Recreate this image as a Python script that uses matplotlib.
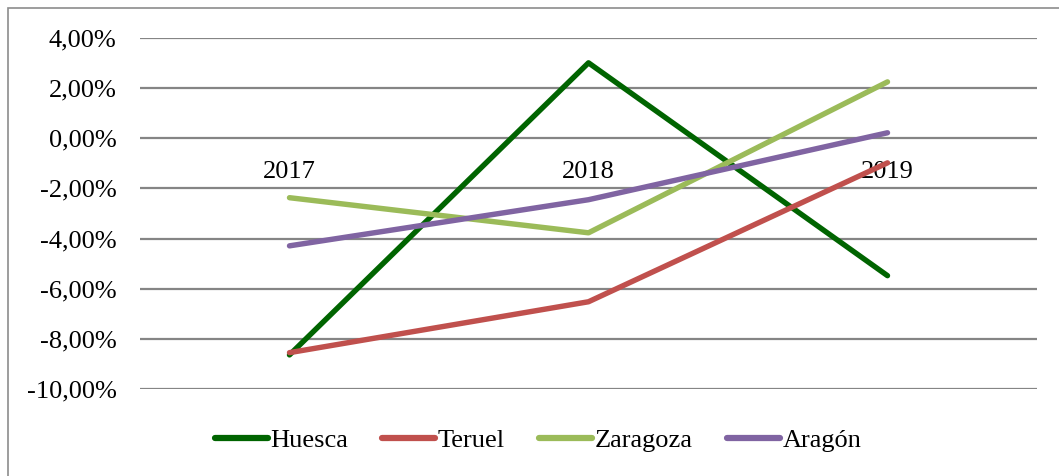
import numpy as np
import matplotlib.pyplot as plt
from matplotlib.patches import Rectangle
from matplotlib.ticker import FuncFormatter

years = ['2017', '2018', '2019']
series_names = ['Huesca', 'Teruel', 'Zaragoza', 'Aragón']
huesca = [-8.64, 3.01, -5.48]
teruel = [-8.55, -6.52, -0.98]
zaragoza = [-2.37, -3.77, 2.25]
aragon = [-4.29, -2.45, 0.22]
colors = ['#006400', '#C0504D', '#9BBB59', '#8064A2']

plt.rcParams['font.family'] = ['Liberation Serif', 'DejaVu Serif']
fs = 19

fig = plt.figure(figsize=(10.59, 4.76), dpi=100)
ax = fig.add_axes([140/1059, 1 - 389/476, (1037 - 140)/1059, (389 - 38)/476])

# outer chart frame (cut off at right and bottom like the original)
fig.patches.append(Rectangle((8/1059, -0.1), 1.2, 1.1 - 8/476, transform=fig.transFigure,
                             fill=False, edgecolor='#8c8c8c', linewidth=1.2, clip_on=False))

x = np.arange(len(years)) + 0.5
for vals, name, c in zip([huesca, teruel, zaragoza, aragon], series_names, colors):
    ax.plot(x, vals, color=c, linewidth=3.9, solid_capstyle='round', label=name, zorder=3)

ax.set_xlim(0, 3)
ax.set_ylim(-10, 4)
ax.set_yticks(np.arange(-10, 5, 2))
ax.yaxis.set_major_formatter(FuncFormatter(lambda v, p: ('%.2f%%' % v).replace('.', ',')))
ax.tick_params(axis='y', length=0, pad=17, labelsize=fs)
ax.set_xticks([])
ax.grid(axis='y', color='#858585', linewidth=1.6)
ax.set_axisbelow(True)
for s in ax.spines.values():
    s.set_visible(False)

# category labels sit just below the zero line
for xi, yr in zip(x, years):
    ax.annotate(yr, (xi, 0), xytext=(0, -28.4), textcoords='offset points',
                ha='center', va='baseline', fontsize=fs, zorder=2)

leg = fig.legend(loc='center', bbox_to_anchor=(538/1059, 1 - 440/476), ncol=4,
                 frameon=False, fontsize=fs, handlelength=2.0, handletextpad=0.1,
                 columnspacing=1.3)
for h in leg.get_lines():
    h.set_linewidth(4.5)

fig.savefig('out.png', dpi=100)
